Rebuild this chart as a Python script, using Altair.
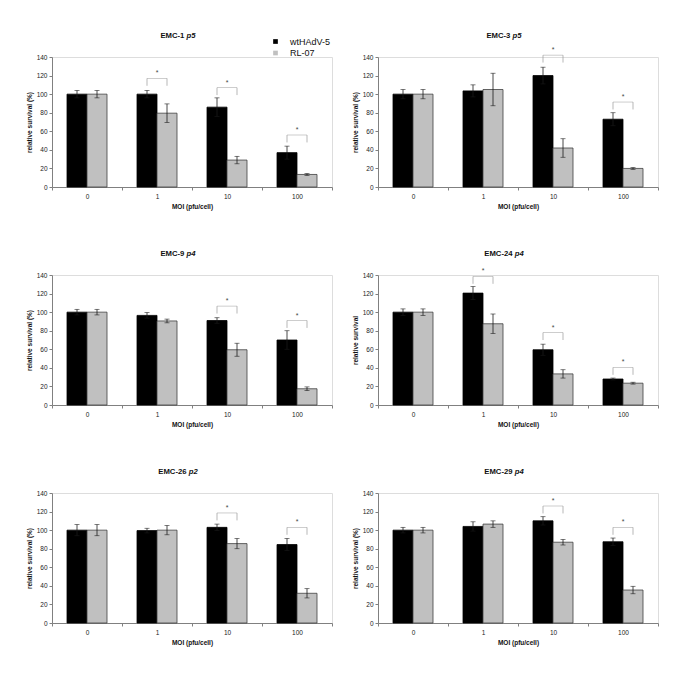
import altair as alt
import pandas as pd

MOI = ["0", "1", "10", "100"]
SERIES = ["wtHAdV-5", "RL-07"]
COLORS = ["#000000", "#c0c0c0"]
STROKES = ["#000000", "#404040"]

PANELS = ["EMC-1", "EMC-3", "EMC-9", "EMC-24", "EMC-26", "EMC-29"]
PASSAGES = ["p5", "p5", "p4", "p4", "p2", "p4"]
Y_TITLES = ["relative survival (%)", "relative survival (%)", "relative survival (%)",
            "relative survival", "relative survival (%)", "relative survival (%)"]

emc1_wt = [100, 100, 86, 37]
emc1_wt_err = [4, 4, 10, 7]
emc1_rl = [100, 79.5, 29, 13.5]
emc1_rl_err = [4, 10, 4, 1]
emc1_bracket = [None, 117, 107, 56]

emc3_wt = [100, 103.5, 120, 73]
emc3_wt_err = [5, 6.5, 9, 7]
emc3_rl = [100, 105, 42, 20]
emc3_rl_err = [5, 17.5, 10, 1]
emc3_bracket = [None, None, 142, 91.5]

emc9_wt = [100, 96.5, 91, 70]
emc9_wt_err = [3, 3, 3, 10]
emc9_rl = [100, 90.5, 59.5, 17.5]
emc9_rl_err = [3, 2, 7, 2]
emc9_bracket = [None, None, 106.5, 91]

emc24_wt = [100, 120.5, 59.5, 28]
emc24_wt_err = [3.5, 7, 6, 1]
emc24_rl = [100, 87.5, 33.5, 23.5]
emc24_rl_err = [3.5, 10.5, 4.5, 1]
emc24_bracket = [None, 138.5, 78, 40.5]

emc26_wt = [100, 99.5, 103, 84.5]
emc26_wt_err = [6, 2.5, 3.5, 6.5]
emc26_rl = [100, 100, 85.5, 32]
emc26_rl_err = [6, 5, 5.5, 5]
emc26_bracket = [None, None, 118.5, 103]

emc29_wt = [100, 104, 110, 87.5]
emc29_wt_err = [3, 5, 4.5, 4]
emc29_rl = [100, 106.5, 87, 35.5]
emc29_rl_err = [3, 3.5, 3, 4]
emc29_bracket = [None, None, 126, 103]

DATA = [
    (emc1_wt, emc1_wt_err, emc1_rl, emc1_rl_err, emc1_bracket),
    (emc3_wt, emc3_wt_err, emc3_rl, emc3_rl_err, emc3_bracket),
    (emc9_wt, emc9_wt_err, emc9_rl, emc9_rl_err, emc9_bracket),
    (emc24_wt, emc24_wt_err, emc24_rl, emc24_rl_err, emc24_bracket),
    (emc26_wt, emc26_wt_err, emc26_rl, emc26_rl_err, emc26_bracket),
    (emc29_wt, emc29_wt_err, emc29_rl, emc29_rl_err, emc29_bracket),
]

FONT = "Liberation Sans"
W, H = 280, 130
TICK_DROP = 8

BOLD_W = {"E": .667, "M": .833, "C": .722, "-": .333, " ": .278, "p": .611}


def text_width(s, size):
    return sum(BOLD_W.get(c, .556) for c in s) * size


def panel(idx):
    wt, wte, rl, rle, br = DATA[idx]
    rows = []
    for j, m in enumerate(MOI):
        for s, v, e in ((SERIES[0], wt[j], wte[j]), (SERIES[1], rl[j], rle[j])):
            rows.append(dict(moi=m, series=s, value=v, lo=v - e, hi=v + e))
    df = pd.DataFrame(rows)
    brows = [dict(moi=MOI[j], h=br[j], h2=br[j] - TICK_DROP, star="*")
             for j in range(4) if br[j] is not None]
    bdf = pd.DataFrame(brows)
    ends = pd.DataFrame([dict(moi=r["moi"], series=s, h=r["h"], h2=r["h2"])
                         for r in brows for s in SERIES])

    xaxis = alt.Axis(title="MOI (pfu/cell)", labelAngle=0, tickBand="extent",
                     tickSize=3, labelPadding=3, titlePadding=4,
                     labelFontSize=6.5, titleFontSize=6.5, titleFontWeight="bold",
                     labelFont=FONT, titleFont=FONT, domainColor="#808080",
                     tickColor="#808080", labelColor="#222222", titleColor="#111111")
    x = alt.X("moi:N", sort=MOI, scale=alt.Scale(paddingInner=0, paddingOuter=0), axis=xaxis)
    xo = alt.XOffset("series:N", sort=SERIES,
                     scale=alt.Scale(paddingInner=0, paddingOuter=0.75))
    yaxis = alt.Axis(title=Y_TITLES[idx], values=list(range(0, 141, 20)), grid=False,
                     tickSize=3, labelPadding=2, titlePadding=3.5,
                     labelFontSize=6.5, titleFontSize=6.5, titleFontWeight="bold",
                     labelFont=FONT, titleFont=FONT, domainColor="#808080",
                     tickColor="#808080", labelColor="#222222", titleColor="#111111")
    yscale = alt.Scale(domain=[0, 140], nice=False)

    if idx == 0:
        legend = alt.Legend(title=None, orient="none", legendX=219, legendY=-20,
                            symbolType="square", symbolSize=22, symbolStrokeWidth=0,
                            labelFontSize=9, labelFont=FONT, labelColor="#111111",
                            labelOffset=10, rowPadding=1.5, padding=0)
    else:
        legend = None
    color = alt.Color("series:N", sort=SERIES,
                      scale=alt.Scale(domain=SERIES, range=COLORS), legend=legend)
    stroke = alt.Stroke("series:N", sort=SERIES,
                        scale=alt.Scale(domain=SERIES, range=STROKES), legend=None)

    bars = alt.Chart(df).mark_bar(strokeWidth=0.8).encode(
        x=x, xOffset=xo, y=alt.Y("value:Q", scale=yscale, axis=yaxis),
        color=color, stroke=stroke)
    err = alt.Chart(df).mark_rule(color="#1a1a1a", strokeWidth=0.8).encode(
        x=x, xOffset=xo, y=alt.Y("lo:Q", scale=yscale, axis=yaxis), y2="hi:Q")
    cap_lo = alt.Chart(df).mark_tick(color="#1a1a1a", size=5, thickness=0.8).encode(
        x=x, xOffset=xo, y=alt.Y("lo:Q", scale=yscale, axis=yaxis))
    cap_hi = alt.Chart(df).mark_tick(color="#1a1a1a", size=5, thickness=0.8).encode(
        x=x, xOffset=xo, y=alt.Y("hi:Q", scale=yscale, axis=yaxis))

    layers = [bars, err, cap_lo, cap_hi]
    if len(brows):
        bline = alt.Chart(bdf).mark_tick(color="#9a9a9a", size=20, thickness=0.7).encode(
            x=x, y=alt.Y("h:Q", scale=yscale, axis=yaxis))
        bends = alt.Chart(ends).mark_rule(color="#9a9a9a", strokeWidth=0.7).encode(
            x=x, xOffset=xo, y=alt.Y("h:Q", scale=yscale, axis=yaxis), y2="h2:Q")
        stars = alt.Chart(bdf).mark_text(font=FONT, fontSize=7, color="#444444", dy=-5).encode(
            x=x, y=alt.Y("h:Q", scale=yscale, axis=yaxis), text="star:N")
        layers += [bline, bends, stars]

    name = PANELS[idx]
    psg = PASSAGES[idx]
    fs = 7.7
    wn = text_width(name, fs)
    wsp = text_width(" ", fs)
    wp = text_width(psg, fs)
    start = 126 - (wn + wsp + wp) / 2
    t1 = alt.Chart(pd.DataFrame({"t": [name]})).mark_text(
        font=FONT, fontSize=fs, fontWeight="bold", align="left", baseline="middle",
        color="#111111").encode(text="t:N", x=alt.value(start), y=alt.value(-21))
    t2 = alt.Chart(pd.DataFrame({"t": [psg]})).mark_text(
        font=FONT, fontSize=fs, fontWeight="bold", fontStyle="italic", align="left",
        baseline="middle", color="#111111").encode(
        text="t:N", x=alt.value(start + wn + wsp), y=alt.value(-21))
    layers += [t1, t2]

    return alt.layer(*layers).properties(width=W, height=H)


chart = alt.concat(*[panel(i) for i in range(6)], columns=2,
                   spacing={"row": 38, "column": 19}).resolve_legend(
    color="independent", stroke="independent").properties(
    padding={"left": 18, "top": 23, "right": 5, "bottom": 5}).configure_view(
    stroke=None).configure(background="white")

chart.save("out.html", embed_options={"renderer": "svg", "actions": False})
